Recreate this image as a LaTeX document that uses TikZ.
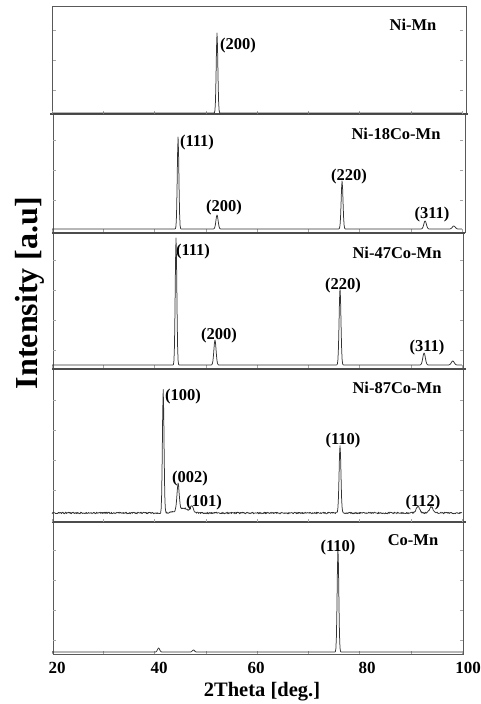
\documentclass[tikz,border=0pt]{standalone}
\usepackage{fontspec}
\setmainfont{Liberation Serif}
\begin{document}
\begin{tikzpicture}[x=1pt,y=-1pt,
  declare function={g(\xa,\xc,\xw)=exp(-(min(abs(\xa-\xc),3*\xw)/\xw)^2);},
  frame/.style={draw=black!65, line width=0.8pt},
  sep/.style={draw=black!70, line width=1.3pt},
  spec/.style={draw=black!80, line width=0.75pt, line join=round},
  tk/.style={draw=black!35, line width=0.4pt},
  pk/.style={font=\fontsize{16.5}{16}\selectfont\bfseries, inner sep=0pt},
  ttl/.style={font=\fontsize{16.5}{16}\selectfont\bfseries, inner sep=0pt},
  tlab/.style={font=\fontsize{17}{17}\selectfont\bfseries, inner sep=0pt},
]
\useasboundingbox (0,0) rectangle (480,704);
\pgfmathsetseed{7}
% frames
\draw[frame] (52,6) rectangle (466,114);
\draw[frame] (53,114) rectangle (465,232);
\draw[frame] (53,233) rectangle (463,368);
\draw[frame] (53,369) rectangle (463,522);
\draw[frame] (53,522) rectangle (463,654);
\draw[sep] (50,114) -- (468,114);
\draw[sep] (52,233) -- (465,233);
\draw[sep] (52,369) -- (466,369);
\draw[sep] (52,522) -- (466,522);
% ticks
\foreach \b in {114,232,368,522,654}{
  \foreach \t in {20,30,...,100}{
    \draw[tk] ({52+(\t-20)*5.125},\b) -- ++(0,-3);
  }
}
\foreach \yy in {30,60,90,140,170,200,260,290,320,350,400,430,460,490,550,580,610,640}{
  \draw[tk] (53,\yy) -- ++(3,0);
  \draw[tk] (463,\yy) -- ++(-3,0);
}
% spectra
\draw[spec] plot[domain=20:100, samples=801] ({52+(\x-20)*5.125}, {113 - 80*g(\x,52.2,0.22)});
\draw[spec] plot[domain=20:100, samples=801] ({52+(\x-20)*5.125},
  {229 - 92*g(\x,44.6,0.22) - 14*g(\x,52.2,0.3) - 48*g(\x,76.6,0.25) - 8*g(\x,92.8,0.35) - 3*g(\x,98.4,0.4)});
\draw[spec] plot[domain=20:100, samples=801] ({52+(\x-20)*5.125},
  {365 - 127*g(\x,44.2,0.22) - 25*g(\x,51.8,0.3) - 77*g(\x,76.2,0.25) - 12*g(\x,92.6,0.35) - 4*g(\x,98.2,0.4)});
\draw[spec] plot[domain=20:100, samples=801] ({52+(\x-20)*5.125},
  {513 - 123*g(\x,41.7,0.22) - 26*g(\x,44.6,0.3) - 6*g(\x,47.3,0.4) - 5*g(\x,45.5,1.6) - 68*g(\x,76.2,0.25) - 6*g(\x,91.4,0.5) - 6*g(\x,94.0,0.5) - 1.6*rnd + 0.8});
\draw[spec] plot[domain=20:100, samples=801] ({52+(\x-20)*5.125},
  {652 - 104*g(\x,75.8,0.22) - 4*g(\x,40.8,0.3) - 2*g(\x,47.6,0.3)});
% panel titles
\node[ttl] (t1) at (413,25) {Ni-Mn};
\node[ttl] (t2) at (396,134) {Ni-18Co-Mn};
\node[ttl] (t3) at (397,253) {Ni-47Co-Mn};
\node[ttl] (t4) at (397,388) {Ni-87Co-Mn};
\node[ttl] (t5) at (413,540) {Co-Mn};
% peak labels
\node[pk] (p1a) at (238,46) {(200)};
\node[pk] (p2a) at (197,143) {(111)};
\node[pk] (p2b) at (224,208) {(200)};
\node[pk] (p2c) at (349,177) {(220)};
\node[pk] (p2d) at (432,215) {(311)};
\node[pk] (p3a) at (193,252) {(111)};
\node[pk] (p3b) at (219,336) {(200)};
\node[pk] (p3c) at (343,286) {(220)};
\node[pk] (p3d) at (427,348) {(311)};
\node[pk] (p4a) at (183,397) {(100)};
\node[pk] (p4b) at (190,479) {(002)};
\node[pk] (p4c) at (204,503) {(101)};
\node[pk] (p4d) at (343,441) {(110)};
\node[pk] (p4e) at (423,503) {(112)};
\node[pk] (p5a) at (338,548) {(110)};
% axis tick labels
\node[tlab] (x20) at (57,668) {20};
\node[tlab] (x40) at (159,668) {40};
\node[tlab] (x60) at (256,668) {60};
\node[tlab] (x80) at (367,668) {80};
\node[tlab] (x100) at (468,668) {100};
% axis titles
\node[font=\fontsize{20.5}{20}\selectfont\bfseries, inner sep=0pt] (xl) at (262,692) {2Theta [deg.]};
\node[font=\fontsize{32}{32}\selectfont\bfseries, inner sep=0pt, rotate=90] (yl) at (30,293) {Intensity [a.u]};
\end{tikzpicture}
\end{document}
